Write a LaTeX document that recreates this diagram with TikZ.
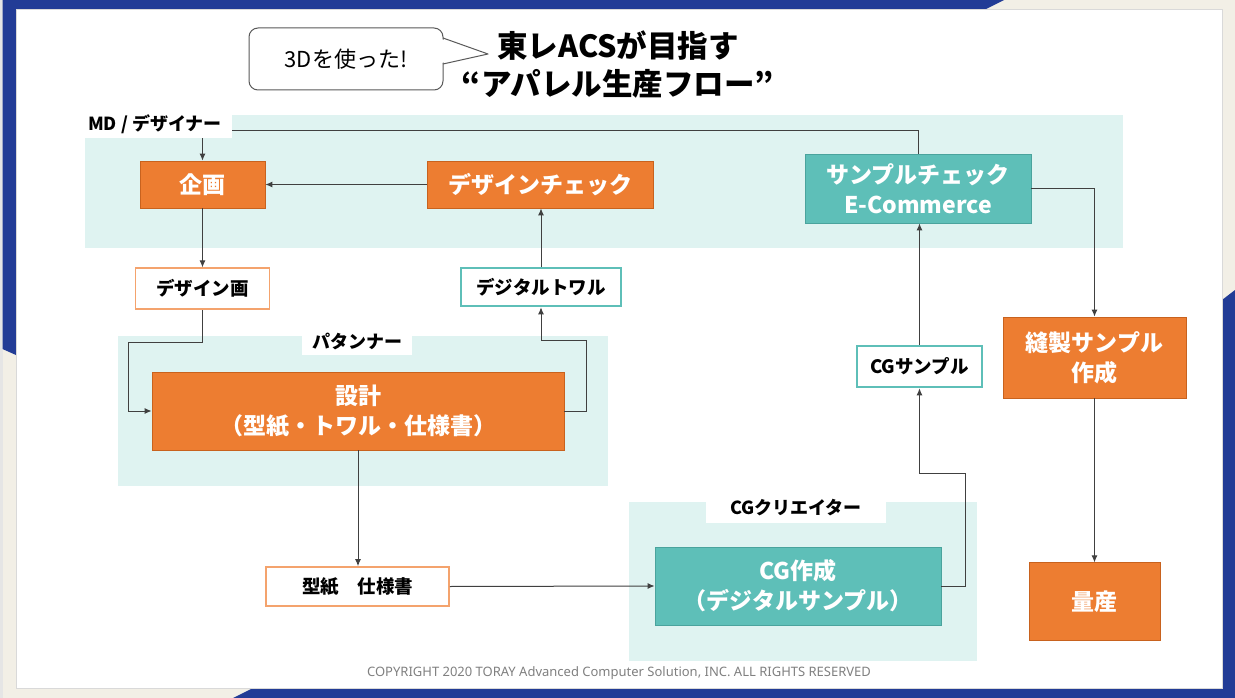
\documentclass[tikz,border=0pt]{standalone}
\usepackage{fontspec}
\setmainfont{Noto Sans CJK JP}
\newfontfamily\notefont{Noto Sans}
\usetikzlibrary{arrows.meta, positioning}

\definecolor{flowblue}{HTML}{223C96}
\definecolor{flowcream}{HTML}{F2EFE6}
\definecolor{floworange}{HTML}{ED7D31}
\definecolor{floworangedk}{HTML}{C8621E}
\definecolor{floworangelt}{HTML}{F4A36D}
\definecolor{flowteal}{HTML}{5EBFB8}
\definecolor{flowtealdk}{HTML}{4AA39D}
\definecolor{flowzone}{HTML}{DFF3F1}
\definecolor{flowgrey}{HTML}{404040}

\begin{document}
\begin{tikzpicture}[
    x=1pt, y=-1pt,
    every node/.style={inner sep=0pt, font=\bfseries},
    orangebox/.style={draw=floworangedk, line width=0.8pt, fill=floworange, text=white, align=center, font=\fontsize{23}{30}\selectfont\bfseries},
    tealbox/.style={orangebox, draw=flowtealdk, fill=flowteal},
    docbox/.style={draw=floworangelt, line width=1.6pt, fill=white, font=\fontsize{18.5}{22}\selectfont\bfseries},
    towalbox/.style={docbox, draw=flowteal, line width=2.6pt},
    zone/.style={fill=flowzone},
    rolelabel/.style={fill=white, font=\fontsize{18}{22}\selectfont\bfseries},
    bubble/.style={draw=black!65, line width=1pt, fill=white, rounded corners=9pt, font=\fontsize{22}{26}\selectfont},
    title/.style={font=\fontsize{30.5}{34}\selectfont\bfseries},
    arrow/.style={-{Latex[length=7pt,width=6pt]}, draw=flowgrey, line width=1pt},
    plainline/.style={draw=flowgrey, line width=1pt}
]
\useasboundingbox (0,0) rectangle (1235,698);

% Frame
\fill[flowcream] (0,0) rectangle (1235,698);
\fill[black!10] (0,0) rectangle (2.5,698);
\fill[flowblue] (2.5,0) -- (1004,0) -- (986,9) -- (16,9) -- (16,355) -- (2.5,349) -- cycle;
\fill[flowblue] (1235,290) -- (1235,698) -- (233,698) -- (253,688) -- (1222,688) -- (1222,300) -- cycle;
\fill[white] (16,9) rectangle (1222,688);
\draw[black!15, line width=0.5pt] (16,9) rectangle (1222,688);

% Zones
\fill[zone] (85,115) rectangle (1123,248);
\fill[zone] (118,336) rectangle (608,486);
\fill[zone] (629,502) rectangle (977,661);

% Role labels
\node[rolelabel, minimum width=154pt, minimum height=28pt] (mdlabel) at (155,124) {MD / デザイナー};
\node[rolelabel, minimum width=110pt, minimum height=27pt] (patlabel) at (357,341.5) {パタンナー};
\node[rolelabel, minimum width=180pt, minimum height=30pt] (cglabel) at (796,508) {CGクリエイター};

% Title
\node[bubble, minimum width=194pt, minimum height=62pt] (bubble) at (346,59) {3Dを使った!};
\fill[white] (441,39) -- (488,54) -- (441,63) -- cycle;
\draw[black!65, line width=1pt, line join=round] (443,38) -- (488,54) -- (443,64);
\node[title] (title1) at (618,46) {東レACSが目指す};
\node[title] (title2) at (618,84) {“アパレル生産フロー”};

% Nodes
\node[orangebox, minimum width=125pt, minimum height=47pt] (plan) at (202.5,184.5) {企画};
\node[orangebox, minimum width=226pt, minimum height=47pt] (dcheck) at (540,184.5) {デザインチェック};
\node[tealbox, minimum width=226pt, minimum height=69pt] (scheck) at (918,188.5) {サンプルチェック\\E-Commerce};
\node[docbox, minimum width=134pt, minimum height=41pt, below=59pt of plan] (design) {デザイン画};
\node[towalbox, minimum width=160pt, minimum height=38pt] (towal) at (541,287) {デジタルトワル};
\node[orangebox, minimum width=412pt, minimum height=78pt] (sekkei) at (358,411) {設計\\（型紙・トワル・仕様書）};
\node[docbox, minimum width=183pt, minimum height=39pt] (pattern) at (357.5,586.5) {型紙　仕様書};
\node[tealbox, minimum width=286pt, minimum height=78pt] (cg) at (798,586) {CG作成\\（デジタルサンプル）};
\node[towalbox, minimum width=125pt, minimum height=41pt] (cgsample) at (919.5,366.5) {CGサンプル};
\node[orangebox, minimum width=183pt, minimum height=81pt] (housei) at (1094.5,357.5) {縫製サンプル\\作成};
\node[orangebox, minimum width=131pt, minimum height=78pt, below=164pt of housei] (ryosan) {量産};

\node[font=\notefont\fontsize{13}{15}\selectfont, text=black!50] (copyright) at (619,673) {COPYRIGHT 2020 TORAY Advanced Computer Solution, INC. ALL RIGHTS RESERVED};

% Arrows
\draw[plainline] (scheck.north) |- ([yshift=-7pt]mdlabel.east);
\draw[arrow] (plan.north |- mdlabel.south) -- (plan.north);
\draw[arrow] (dcheck.west) -- (plan.east);
\draw[arrow] (plan.south) -- (design.north);
\draw[arrow] (design.south) -- ++(0,32) -| ([xshift=-23pt]sekkei.west) -- (sekkei.west);
\draw[arrow] (sekkei.east) -- ++(22,0) |- ([yshift=-33pt]towal.south) -- (towal.south);
\draw[arrow] (towal.north) -- (towal.north |- dcheck.south);
\draw[arrow] (sekkei.south) -- (sekkei.south |- pattern.north);
\draw[arrow] (pattern.east) -- (cg.west);
\draw[arrow] (cg.east) -- ++(24,0) |- ([yshift=-85pt]cgsample.south) -- (cgsample.south);
\draw[arrow] (cgsample.north) -- (cgsample.north |- scheck.south);
\draw[arrow] (scheck.east) -| (housei.north);
\draw[arrow] (housei.south) -- (ryosan.north);

\end{tikzpicture}
\end{document}
